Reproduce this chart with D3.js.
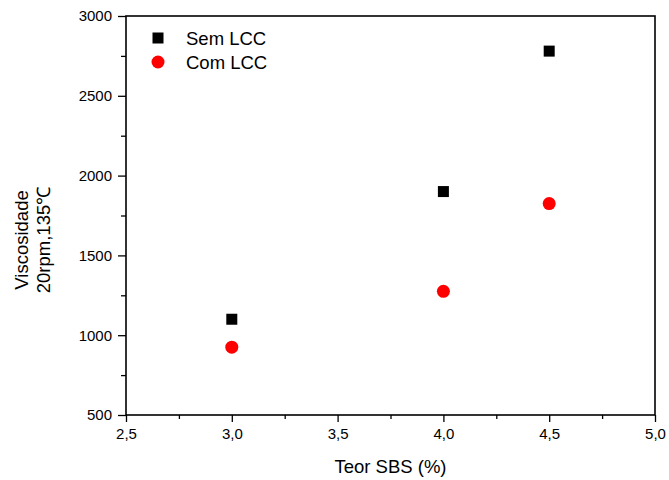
<!DOCTYPE html>
<html lang="pt">
<head>
<meta charset="UTF-8">
<script src="https://d3js.org/d3.v7.min.js"></script>
<style>
    html, body { margin: 0; padding: 0; background: #fff; }
    svg text { font-family: Arial, 'Liberation Sans', sans-serif; fill: #000; }
</style>
</head>
<body>
<div id="chart"></div>
<script>

// data
var teor = [3.0, 4.0, 4.5];
var semLCC = [1100, 1900, 2780];
var comLCC = [925, 1275, 1825];
var xTicks = [2.5, 3.0, 3.5, 4.0, 4.5, 5.0];
var yTicks = [500, 1000, 1500, 2000, 2500, 3000];
var seriesNames = ["Sem LCC", "Com LCC"];

var W = 669, H = 480;
var margin = {top: 16, right: 14, bottom: 65, left: 126};
var width = W - margin.left - margin.right,
    height = H - margin.top - margin.bottom;

var svg = d3.select('#chart')
    .append('svg')
    .attr('width', W)
    .attr('height', H);

var g = svg.append('g')
    .attr('transform', 'translate(' + margin.left + ',' + margin.top + ')');

var x = d3.scaleLinear().domain([2.5, 5.0]).range([0, width]);
var y = d3.scaleLinear().domain([500, 3000]).range([height, 0]);

var fmt = function(d) { return d3.format('.1f')(d).replace('.', ','); };

// minor ticks first
g.append('g')
    .attr('transform', 'translate(0,' + height + ')')
    .call(d3.axisBottom(x).tickValues(d3.range(2.75, 5.0, 0.5)).tickSize(4).tickFormat(''))
    .call(function(s) { s.select('.domain').remove(); s.selectAll('line').attr('stroke-width', 1.3); });

g.append('g')
    .call(d3.axisLeft(y).tickValues(d3.range(750, 3000, 500)).tickSize(5).tickFormat(''))
    .call(function(s) { s.select('.domain').remove(); s.selectAll('line').attr('stroke-width', 1.3); });

var xAxis = g.append('g')
    .attr('transform', 'translate(0,' + height + ')')
    .call(d3.axisBottom(x).tickValues(xTicks).tickSize(7).tickPadding(6).tickFormat(fmt));
xAxis.select('.domain').remove();
xAxis.selectAll('line').attr('stroke-width', 1.3);
xAxis.selectAll('text').style('font-size', '15px');

var yAxis = g.append('g')
    .call(d3.axisLeft(y).tickValues(yTicks).tickSize(8).tickPadding(6).tickFormat(d3.format('d')));
yAxis.select('.domain').remove();
yAxis.selectAll('line').attr('stroke-width', 1.3);
yAxis.selectAll('text').style('font-size', '15px');

// frame
g.append('rect')
    .attr('width', width)
    .attr('height', height)
    .attr('fill', 'none')
    .attr('stroke', '#000')
    .attr('stroke-width', 1.6);

// points
g.selectAll('.sem')
    .data(teor)
    .enter()
    .append('rect')
    .attr('class', 'sem')
    .attr('x', function(d) { return x(d) - 5.5; })
    .attr('y', function(d, i) { return y(semLCC[i]) - 5.5; })
    .attr('width', 11)
    .attr('height', 11)
    .attr('fill', '#000');

g.selectAll('.com')
    .data(teor)
    .enter()
    .append('circle')
    .attr('class', 'com')
    .attr('cx', function(d) { return x(d); })
    .attr('cy', function(d, i) { return y(comLCC[i]); })
    .attr('r', 6.5)
    .attr('fill', '#ff0000');

// legend
var legend = svg.append('g').attr('transform', 'translate(158,38)');
legend.append('rect')
    .attr('x', -5.5).attr('y', -5.5)
    .attr('width', 11).attr('height', 11)
    .attr('fill', '#000');
legend.append('circle')
    .attr('cx', 0).attr('cy', 24)
    .attr('r', 6.5)
    .attr('fill', '#ff0000');
legend.selectAll('.lab')
    .data(seriesNames)
    .enter()
    .append('text')
    .attr('class', 'lab')
    .attr('x', 28)
    .attr('y', function(d, i) { return i * 24 + 7; })
    .style('font-size', '18.5px')
    .text(function(d) { return d; });

// axis titles
svg.append('text')
    .attr('x', margin.left + width / 2)
    .attr('y', 473)
    .attr('text-anchor', 'middle')
    .style('font-size', '18.5px')
    .text('Teor SBS (%)');

var yt = svg.append('text')
    .attr('transform', 'translate(28,240) rotate(-90)')
    .attr('text-anchor', 'middle')
    .style('font-size', '18.5px');
yt.append('tspan').attr('x', 0).attr('dy', 0).text('Viscosidade');
yt.append('tspan').attr('x', 0).attr('dy', 22).text('20rpm,135℃');

</script>
</body>
</html>
